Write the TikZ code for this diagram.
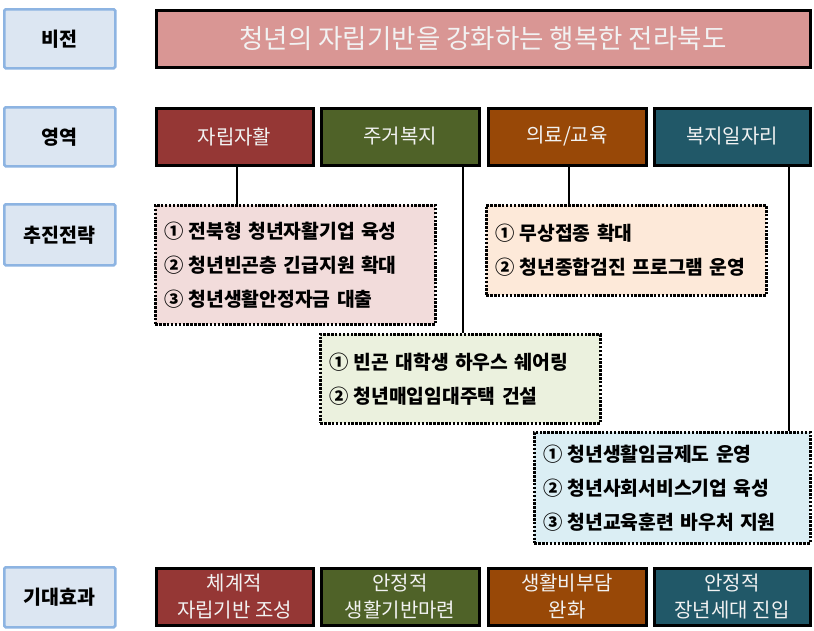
\documentclass[tikz,border=0pt]{standalone}
\usepackage{fontspec}
\setmainfont{Noto Sans CJK KR}
\newfontfamily\strkr{Noto Sans CJK KR}[WordSpace=2.4]
\usetikzlibrary{calc}
\definecolor{lblfill}{HTML}{DCE6F2}
\definecolor{lblline}{HTML}{8DB4E2}
\definecolor{visfill}{HTML}{D99694}
\definecolor{cA}{HTML}{953735}
\definecolor{cB}{HTML}{4F6228}
\definecolor{cC}{HTML}{984807}
\definecolor{cD}{HTML}{215868}
\definecolor{fA}{HTML}{F2DCDB}
\definecolor{fB}{HTML}{EBF1DE}
\definecolor{fC}{HTML}{FDE9D9}
\definecolor{fD}{HTML}{DBEEF4}
\definecolor{lighttext}{HTML}{F2F2F2}
\newcommand\cnum[1]{#1\hspace{5pt}}
\begin{document}
\begin{tikzpicture}[x=1pt,y=-1pt,
  lbl/.style={draw=lblline, fill=lblfill, line width=2.5pt, rounded corners=1.5pt,
    minimum width=111pt, inner sep=0pt, anchor=north west,
    font=\fontsize{19.5}{22}\selectfont\bfseries},
  sbox/.style={draw=black, line width=3pt, inner sep=0pt, anchor=north west,
    minimum height=57pt, text=lighttext, align=center,
    font=\fontsize{20}{27}\selectfont},
  dotbox/.style={draw=black, line width=2.5pt, dash pattern=on 2.5pt off 1.4pt,
    inner xsep=9pt, inner ysep=0pt, anchor=north west, align=left,
    font=\strkr\fontsize{19.3}{34}\selectfont\bfseries},
  conn/.style={draw=black, line width=2.5pt}
]
\useasboundingbox (0,0) rectangle (814,630);

% left labels
\node[lbl, minimum height=59pt] (l1) at (3,8) {비전};
\node[lbl, minimum height=59pt] (l2) at (3,106) {영역};
\node[lbl, minimum height=61pt] (l3) at (3,203) {추진전략};
\node[lbl, minimum height=60pt] (l4) at (3,566) {기대효과};

% vision
\node[sbox, fill=visfill, minimum width=654pt, font=\fontsize{26.5}{30}\selectfont] (v) at (154.5,8.5) {청년의 자립기반을 강화하는 행복한 전라북도};

% areas
\node[sbox, fill=cA, minimum width=157pt] (a1) at (154.5,106.5) {자립자활};
\node[sbox, fill=cB, minimum width=158pt] (a2) at (319.5,106.5) {주거복지};
\node[sbox, fill=cC, minimum width=158pt] (a3) at (486.5,106.5) {의료/교육};
\node[sbox, fill=cD, minimum width=156pt] (a4) at (652.5,106.5) {복지일자리};

% strategies
\node[dotbox, fill=fA, text width=262pt, minimum height=119pt] (s1) at (154,204) {\cnum{①}전북형 청년자활기업 육성\\\cnum{②}청년빈곤층 긴급지원 확대\\\cnum{③}청년생활안정자금 대출};
\node[dotbox, fill=fB, text width=262pt, minimum height=89pt] (s2) at (319,333) {\cnum{①}빈곤 대학생 하우스 쉐어링\\\cnum{②}청년매입임대주택 건설};
\node[dotbox, fill=fC, text width=262pt, minimum height=90pt] (s3) at (485,204) {\cnum{①}무상접종 확대\\\cnum{②}청년종합검진 프로그램 운영};
\node[dotbox, fill=fD, text width=258pt, minimum height=111pt] (s4) at (533,431) {\cnum{①}청년생활임금제도 운영\\\cnum{②}청년사회서비스기업 육성\\\cnum{③}청년교육훈련 바우처 지원};

% effects
\node[sbox, fill=cA, minimum width=157pt] (e1) at (154.5,566.5) {체계적\\자립기반 조성};
\node[sbox, fill=cB, minimum width=158pt] (e2) at (319.5,566.5) {안정적\\생활기반마련};
\node[sbox, fill=cC, minimum width=158pt] (e3) at (486.5,566.5) {생활비부담\\완화};
\node[sbox, fill=cD, minimum width=156pt] (e4) at (652.5,566.5) {안정적\\장년세대 진입};

% connectors
\coordinate (k1) at (237,0);
\coordinate (k2) at (463,0);
\coordinate (k3) at (569,0);
\coordinate (k4) at (789,0);
\draw[conn] (a1.south -| k1) -- (s1.north -| k1);
\draw[conn] (a2.south -| k2) -- (s2.north -| k2);
\draw[conn] (a3.south -| k3) -- (s3.north -| k3);
\draw[conn] (a4.south -| k4) -- (s4.north -| k4);
\end{tikzpicture}
\end{document}
